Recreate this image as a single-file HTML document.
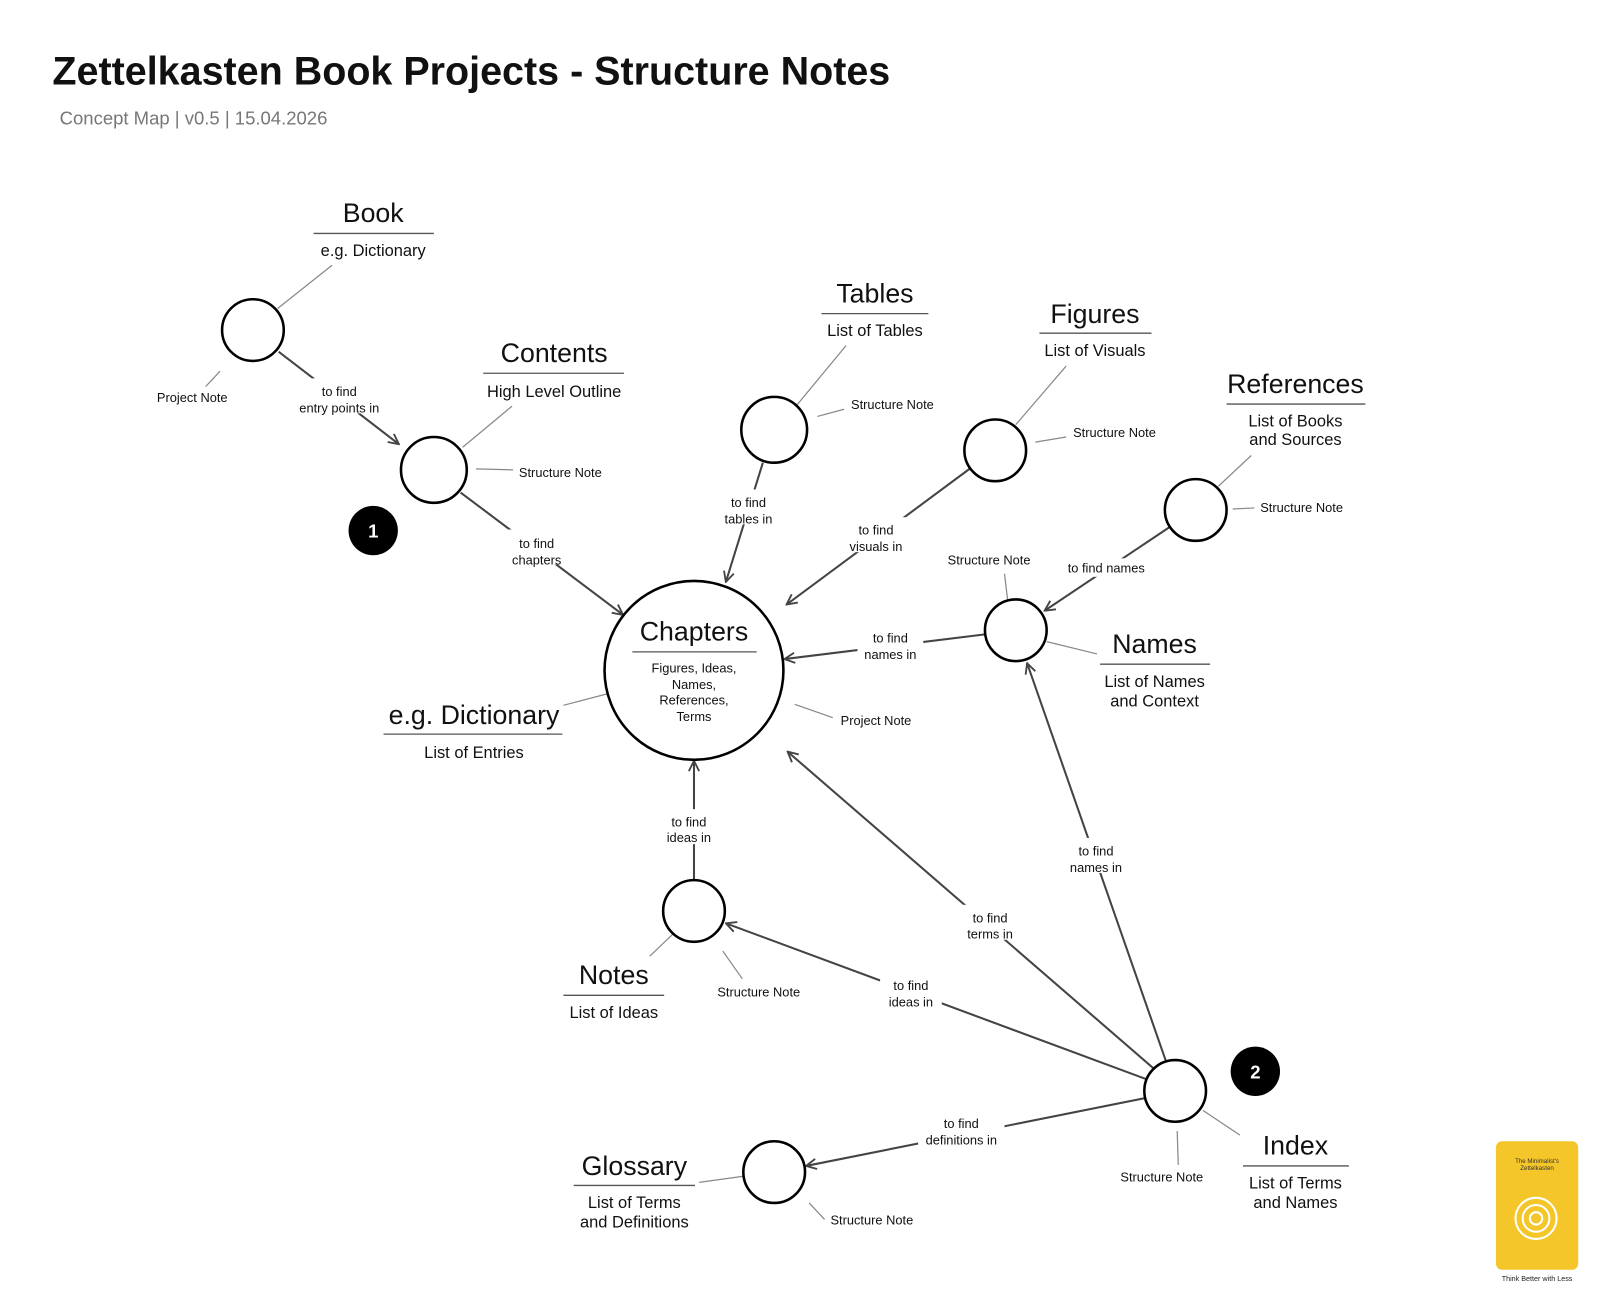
<!DOCTYPE html>
<html><head><meta charset="utf-8"><style>
html,body{margin:0;padding:0;background:#fff;width:1608px;height:1313px;overflow:hidden}
svg{display:block}
text{font-family:"Liberation Sans",Arial,sans-serif;fill:#111}
.t{font-size:26px;text-anchor:middle}
.s{font-size:16px;text-anchor:middle}
.l{font-size:12.5px;text-anchor:middle}
.a{stroke:#444;stroke-width:2;fill:none}
.g{stroke:#888;stroke-width:1.2;fill:none}
.u{stroke:#555;stroke-width:1.3}
.c{fill:#fff;stroke:#000;stroke-width:2.5}
</style></head><body>
<svg width="1608" height="1313" viewBox="0 0 1564 1277" xmlns="http://www.w3.org/2000/svg">
<defs><marker id="ar" viewBox="0 0 12 12" refX="11" refY="6" markerWidth="12" markerHeight="12" markerUnits="userSpaceOnUse" orient="auto"><path d="M1,1 L11,6 L1,11" fill="none" stroke="#444" stroke-width="1.8"/></marker></defs>
<text x="51" y="82" style="font-size:38.4px;font-weight:bold">Zettelkasten Book Projects - Structure Notes</text>
<text x="58" y="121" style="font-size:18px;fill:#777">Concept Map | v0.5 | 15.04.2026</text>

<g class="a" marker-end="url(#ar)">
<path d="M271,342 L388,432"/>
<path d="M448,479 L606,598"/>
<path d="M742,450 L706,566"/>
<path d="M943,456 L765,588"/>
<path d="M1137,513 L1016,594"/>
<path d="M958,617 L763,641"/>
<path d="M675,856 L675,740"/>
<path d="M1116,1050 L706,898"/>
<path d="M1123,1040 L766,731"/>
<path d="M1134,1032 L999,645"/>
<path d="M1114,1068 L784,1134"/>
</g>
<g class="g">
<path d="M270,300 L323,258"/><path d="M214,361 L200,376"/>
<path d="M450,435 L498,395"/><path d="M463,456 L499,457"/>
<path d="M775,394 L823,336"/><path d="M795,405 L821,398"/>
<path d="M988,413 L1037,356"/><path d="M1007,430 L1037,425"/>
<path d="M1185,473 L1217,443"/><path d="M1199,495 L1220,494"/>
<path d="M980,583 L977,558"/><path d="M1018,624 L1067,636"/>
<path d="M590,675 L548,686"/><path d="M773,685 L810,698"/>
<path d="M655,908 L632,930"/><path d="M703,925 L722,952"/>
<path d="M1145,1100 L1146,1133"/><path d="M1170,1080 L1206,1104"/>
<path d="M723,1144 L680,1150"/><path d="M787,1170 L802,1186"/>
</g>
<g class="l">
<rect x="283" y="368" width="94" height="34" fill="#fff"/><text x="330" y="385">to find</text><text x="330" y="401">entry points in</text>
<rect x="492" y="515" width="60" height="34" fill="#fff"/><text x="522" y="533">to find</text><text x="522" y="549">chapters</text>
<rect x="698" y="476" width="60" height="34" fill="#fff"/><text x="728" y="493">to find</text><text x="728" y="509">tables in</text>
<rect x="820" y="503" width="64" height="34" fill="#fff"/><text x="852" y="520">to find</text><text x="852" y="536">visuals in</text>
<rect x="1034" y="543" width="84" height="18" fill="#fff"/><text x="1076" y="557">to find names</text>
<rect x="834" y="608" width="64" height="34" fill="#fff"/><text x="866" y="625">to find</text><text x="866" y="641">names in</text>
<rect x="640" y="787" width="62" height="34" fill="#fff"/><text x="670" y="804">to find</text><text x="670" y="819">ideas in</text>
<rect x="856" y="946" width="60" height="34" fill="#fff"/><text x="886" y="963">to find</text><text x="886" y="979">ideas in</text>
<rect x="933" y="880" width="60" height="34" fill="#fff"/><text x="963" y="897">to find</text><text x="963" y="913">terms in</text>
<rect x="1034" y="815" width="64" height="34" fill="#fff"/><text x="1066" y="832">to find</text><text x="1066" y="848">names in</text>
<rect x="893" y="1080" width="84" height="34" fill="#fff"/><text x="935" y="1097">to find</text><text x="935" y="1113">definitions in</text>
<text x="187" y="391">Project Note</text>
<text x="545" y="464">Structure Note</text>
<text x="868" y="398">Structure Note</text>
<text x="1084" y="425">Structure Note</text>
<text x="1266" y="498">Structure Note</text>
<text x="962" y="549">Structure Note</text>
<text x="852" y="705">Project Note</text>
<text x="738" y="969">Structure Note</text>
<text x="1130" y="1149">Structure Note</text>
<text x="848" y="1191">Structure Note</text>
</g>
<circle class="c" cx="246" cy="321" r="30"/>
<circle class="c" cx="422" cy="457" r="32"/>
<circle class="c" cx="753" cy="418" r="32"/>
<circle class="c" cx="968" cy="438" r="30"/>
<circle class="c" cx="1163" cy="496" r="30"/>
<circle class="c" cx="988" cy="613" r="30"/>
<circle class="c" cx="675" cy="652" r="87"/>
<circle class="c" cx="675" cy="886" r="30"/>
<circle class="c" cx="1143" cy="1061" r="30"/>
<circle class="c" cx="753" cy="1140" r="30"/>
<circle cx="363" cy="516" r="24" fill="#000"/><text x="363" y="523" style="font-size:18px;font-weight:bold;fill:#fff;text-anchor:middle">1</text>
<circle cx="1221" cy="1042" r="24" fill="#000"/><text x="1221" y="1049" style="font-size:18px;font-weight:bold;fill:#fff;text-anchor:middle">2</text>

<text class="t" x="363" y="216">Book</text><line class="u" x1="305" y1="227" x2="422" y2="227"/><text class="s" x="363" y="249">e.g. Dictionary</text>
<text class="t" x="539" y="352">Contents</text><line class="u" x1="470" y1="363" x2="607" y2="363"/><text class="s" x="539" y="386">High Level Outline</text>
<text class="t" x="851" y="294">Tables</text><line class="u" x1="799" y1="305" x2="903" y2="305"/><text class="s" x="851" y="327">List of Tables</text>
<text class="t" x="1065" y="314">Figures</text><line class="u" x1="1011" y1="324" x2="1120" y2="324"/><text class="s" x="1065" y="346">List of Visuals</text>
<text class="t" x="1260" y="382">References</text><line class="u" x1="1193" y1="393" x2="1328" y2="393"/><text class="s" x="1260" y="415">List of Books</text><text class="s" x="1260" y="433">and Sources</text>
<text class="t" x="1123" y="635">Names</text><line class="u" x1="1070" y1="646" x2="1177" y2="646"/><text class="s" x="1123" y="668">List of Names</text><text class="s" x="1123" y="687">and Context</text>
<text class="t" x="675" y="623">Chapters</text><line class="u" x1="615" y1="634" x2="736" y2="634"/>
<g class="l"><text x="675" y="654">Figures, Ideas,</text><text x="675" y="670">Names,</text><text x="675" y="685">References,</text><text x="675" y="701">Terms</text></g>
<text class="t" x="461" y="704">e.g. Dictionary</text><line class="u" x1="373" y1="714" x2="547" y2="714"/><text class="s" x="461" y="737">List of Entries</text>
<text class="t" x="597" y="957">Notes</text><line class="u" x1="548" y1="968" x2="646" y2="968"/><text class="s" x="597" y="990">List of Ideas</text>
<text class="t" x="617" y="1143">Glossary</text><line class="u" x1="558" y1="1153" x2="676" y2="1153"/><text class="s" x="617" y="1175">List of Terms</text><text class="s" x="617" y="1194">and Definitions</text>
<text class="t" x="1260" y="1123">Index</text><line class="u" x1="1209" y1="1134" x2="1312" y2="1134"/><text class="s" x="1260" y="1156">List of Terms</text><text class="s" x="1260" y="1175">and Names</text>

<rect x="1455" y="1110" width="80" height="125" rx="6" fill="#f4c62a"/>
<text x="1495" y="1131" style="font-size:6px;text-anchor:middle;fill:#333">The Minimalist's</text>
<text x="1495" y="1138" style="font-size:6px;text-anchor:middle;fill:#333">Zettelkasten</text>
<g fill="none" stroke="#fff" stroke-width="2"><circle cx="1494" cy="1185" r="6"/><circle cx="1494" cy="1185" r="13"/><circle cx="1494" cy="1185" r="20"/></g>
<text x="1495" y="1246" style="font-size:7px;text-anchor:middle;fill:#222">Think Better with Less</text>
</svg>
</body></html>
